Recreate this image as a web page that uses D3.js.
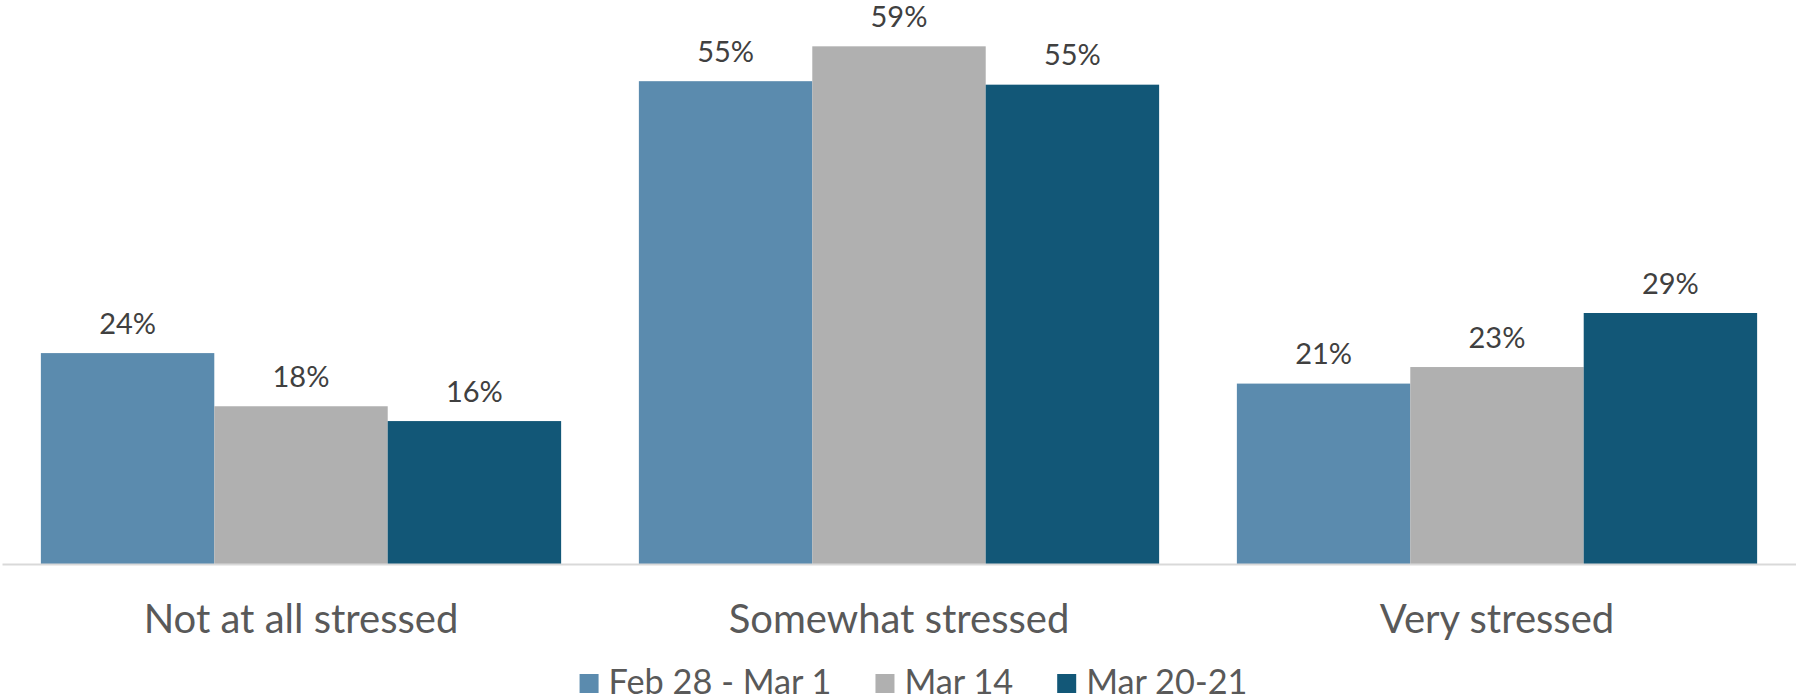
<!DOCTYPE html>
<html>
<head>
<meta charset="utf-8">
<script src="https://cdn.jsdelivr.net/npm/d3@7"></script>
<style>
  html, body { margin: 0; padding: 0; background: #ffffff; }
  svg { display: block; }
  text { font-family: Lato, "Open Sans", sans-serif; }
</style>
</head>
<body>
<svg id="chart" width="1796" height="700"></svg>
<script>
// ---- data ----
const categories = ["Not at all stressed", "Somewhat stressed", "Very stressed"];
const seriesNames = ["Feb 28 - Mar 1", "Mar 14", "Mar 20-21"];
const seriesFeb = [24.2, 55.4, 20.7];
const seriesMar14 = [18.1, 59.4, 22.6];
const seriesMar20 = [16.4, 55.0, 28.8];
const seriesColors = ["#5B8BAE", "#B0B0B0", "#125777"];

const seriesValues = [seriesFeb, seriesMar14, seriesMar20];

const W = 1796, H = 700;
const svg = d3.select("#chart");

const x = d3.scaleBand()
  .domain(categories)
  .range([2, 1796])
  .paddingInner(0.13)
  .paddingOuter(0.065);

const xs = d3.scaleBand()
  .domain(seriesNames)
  .range([0, x.bandwidth()])
  .padding(0);

const y = d3.scaleLinear()
  .domain([0, 60])
  .range([564, 564 - 60 * 8.715]);

const rows = [];
categories.forEach((c, ci) => {
  seriesNames.forEach((s, si) => {
    rows.push({ cat: c, series: s, si: si, value: seriesValues[si][ci] });
  });
});

// bars
svg.append("g")
  .selectAll("rect")
  .data(rows)
  .join("rect")
  .attr("x", d => x(d.cat) + xs(d.series))
  .attr("y", d => y(d.value))
  .attr("width", xs.bandwidth())
  .attr("height", d => y(0) - y(d.value))
  .attr("fill", d => seriesColors[d.si]);

// data labels
svg.append("g")
  .selectAll("text")
  .data(rows)
  .join("text")
  .attr("x", d => x(d.cat) + xs(d.series) + xs.bandwidth() / 2)
  .attr("y", d => y(d.value) - 19.5)
  .attr("text-anchor", "middle")
  .attr("font-size", 29)
  .attr("fill", "#404040")
  .text(d => Math.round(d.value) + "%");

// x axis
const catFont = 40;
const xAxis = svg.append("g")
  .attr("transform", `translate(0,${y(0)})`)
  .call(d3.axisBottom(x).tickSize(0).tickPadding(69 - 0.71 * catFont));
xAxis.select(".domain").attr("stroke", "#D9D9D9").attr("stroke-width", 2);
xAxis.selectAll("text")
  .attr("font-size", catFont)
  .attr("font-family", "Lato, 'Open Sans', sans-serif")
  .attr("fill", "#595959");

// legend
const legFont = 34.3;
const legend = svg.append("g").attr("class", "legend");
const items = legend.selectAll("g")
  .data(seriesNames)
  .join("g");
items.append("rect")
  .attr("width", 19).attr("height", 19)
  .attr("y", 674)
  .attr("fill", (d, i) => seriesColors[i]);
items.append("text")
  .attr("x", 29)
  .attr("y", 694)
  .attr("font-size", legFont)
  .attr("fill", "#595959")
  .text(d => d);
const widths = [];
items.each(function() {
  const tw = d3.select(this).select("text").node().getComputedTextLength();
  widths.push(29 + tw);
});
const gap = 44;
const total = d3.sum(widths) + gap * (widths.length - 1);
let start = 913.5 - total / 2;
items.attr("transform", (d, i) => {
  const t = `translate(${start},0)`;
  start += widths[i] + gap;
  return t;
});
</script>
</body>
</html>
